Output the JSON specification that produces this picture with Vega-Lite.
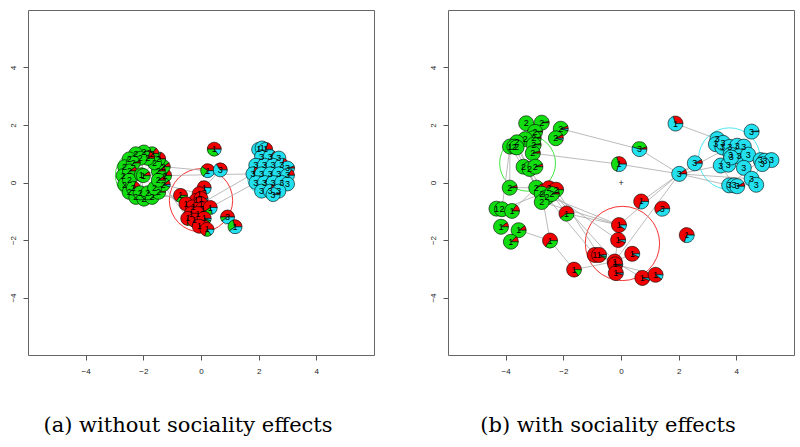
{
"$schema":"https://vega.github.io/schema/vega-lite/v6.json",
"padding":{"left":0,"top":9,"right":0,"bottom":0},
"background":"white",
"datasets":{
"nodes":[
{"p":"a","id":"a1","x":-1.26,"y":0.24,"lab":"2","s1":0.15,"s2":0.85,"s3":0},
{"p":"a","id":"a2","x":-1.31,"y":0.55,"lab":"2","s1":0.1,"s2":0.9,"s3":0},
{"p":"a","id":"a3","x":-1.47,"y":0.82,"lab":"2","s1":0.2,"s2":0.8,"s3":0},
{"p":"a","id":"a4","x":-1.70,"y":1.00,"lab":"2","s1":0.15,"s2":0.85,"s3":0},
{"p":"a","id":"a5","x":-1.98,"y":1.06,"lab":"2","s1":0.05,"s2":0.95,"s3":0},
{"p":"a","id":"a6","x":-2.26,"y":1.00,"lab":"2","s1":0,"s2":1,"s3":0},
{"p":"a","id":"a7","x":-2.49,"y":0.82,"lab":"2","s1":0.1,"s2":0.9,"s3":0},
{"p":"a","id":"a8","x":-2.65,"y":0.55,"lab":"2","s1":0,"s2":1,"s3":0},
{"p":"a","id":"a9","x":-2.70,"y":0.24,"lab":"2","s1":0.15,"s2":0.85,"s3":0},
{"p":"a","id":"a10","x":-2.65,"y":-0.07,"lab":"2","s1":0,"s2":1,"s3":0},
{"p":"a","id":"a11","x":-2.49,"y":-0.34,"lab":"2","s1":0.1,"s2":0.9,"s3":0},
{"p":"a","id":"a12","x":-2.26,"y":-0.52,"lab":"2","s1":0.15,"s2":0.85,"s3":0},
{"p":"a","id":"a13","x":-1.98,"y":-0.58,"lab":"2","s1":0.2,"s2":0.8,"s3":0},
{"p":"a","id":"a14","x":-1.70,"y":-0.52,"lab":"2","s1":0.15,"s2":0.85,"s3":0},
{"p":"a","id":"a15","x":-1.47,"y":-0.34,"lab":"2","s1":0.1,"s2":0.9,"s3":0},
{"p":"a","id":"a16","x":-1.31,"y":-0.07,"lab":"2","s1":0.1,"s2":0.85,"s3":0.05},
{"p":"a","id":"a17","x":-1.48,"y":0.40,"lab":"2","s1":0.1,"s2":0.9,"s3":0},
{"p":"a","id":"a18","x":-1.61,"y":0.68,"lab":"2","s1":0,"s2":1,"s3":0},
{"p":"a","id":"a19","x":-1.85,"y":0.84,"lab":"2","s1":0.2,"s2":0.8,"s3":0},
{"p":"a","id":"a20","x":-2.11,"y":0.84,"lab":"2","s1":0,"s2":1,"s3":0},
{"p":"a","id":"a21","x":-2.35,"y":0.68,"lab":"2","s1":0.05,"s2":0.95,"s3":0},
{"p":"a","id":"a22","x":-2.48,"y":0.40,"lab":"2","s1":0.1,"s2":0.9,"s3":0},
{"p":"a","id":"a23","x":-2.48,"y":0.08,"lab":"2","s1":0,"s2":1,"s3":0},
{"p":"a","id":"a24","x":-2.35,"y":-0.20,"lab":"2","s1":0.2,"s2":0.8,"s3":0},
{"p":"a","id":"a25","x":-2.11,"y":-0.36,"lab":"2","s1":0.05,"s2":0.95,"s3":0},
{"p":"a","id":"a26","x":-1.85,"y":-0.36,"lab":"2","s1":0.15,"s2":0.85,"s3":0},
{"p":"a","id":"a27","x":-1.61,"y":-0.20,"lab":"2","s1":0,"s2":1,"s3":0},
{"p":"a","id":"a28","x":-1.48,"y":0.08,"lab":"2","s1":0.1,"s2":0.9,"s3":0},
{"p":"a","id":"a29","x":-2.07,"y":0.27,"lab":"1","s1":0.15,"s2":0.85,"s3":0},
{"p":"a","id":"a30","x":-2.00,"y":0.24,"lab":"1","s1":0.1,"s2":0.9,"s3":0},
{"p":"a","id":"a31","x":-0.71,"y":-0.45,"lab":"1","s1":0.65,"s2":0.35,"s3":0},
{"p":"a","id":"a32","x":0.11,"y":-0.18,"lab":"1","s1":0.8,"s2":0,"s3":0.2},
{"p":"a","id":"a33","x":-0.06,"y":-0.39,"lab":"1","s1":0.95,"s2":0.05,"s3":0},
{"p":"a","id":"a34","x":-0.17,"y":-0.62,"lab":"1","s1":0.9,"s2":0,"s3":0.1},
{"p":"a","id":"a35","x":0.00,"y":-0.56,"lab":"1","s1":0.9,"s2":0.05,"s3":0.05},
{"p":"a","id":"a36","x":-0.52,"y":-0.74,"lab":"1","s1":0.9,"s2":0.1,"s3":0},
{"p":"a","id":"a37","x":-0.29,"y":-0.85,"lab":"1","s1":0.85,"s2":0,"s3":0.15},
{"p":"a","id":"a38","x":0.00,"y":-0.74,"lab":"1","s1":0.85,"s2":0,"s3":0.15},
{"p":"a","id":"a39","x":0.06,"y":-0.91,"lab":"1","s1":0.8,"s2":0,"s3":0.2},
{"p":"a","id":"a40","x":0.32,"y":-0.87,"lab":"1","s1":0.6,"s2":0.2,"s3":0.2},
{"p":"a","id":"a41","x":-0.34,"y":-1.08,"lab":"1","s1":0.9,"s2":0.1,"s3":0},
{"p":"a","id":"a42","x":-0.11,"y":-1.08,"lab":"1","s1":0.75,"s2":0,"s3":0.25},
{"p":"a","id":"a43","x":-0.46,"y":-1.25,"lab":"1","s1":0.75,"s2":0.25,"s3":0},
{"p":"a","id":"a44","x":-0.23,"y":-1.31,"lab":"1","s1":0.7,"s2":0.1,"s3":0.2},
{"p":"a","id":"a45","x":0.11,"y":-1.25,"lab":"1","s1":0.9,"s2":0.05,"s3":0.05},
{"p":"a","id":"a46","x":-0.06,"y":-1.52,"lab":"1","s1":0.95,"s2":0.05,"s3":0},
{"p":"a","id":"a47","x":0.21,"y":-1.63,"lab":"1","s1":0.7,"s2":0.15,"s3":0.15},
{"p":"a","id":"a48","x":0.46,"y":1.16,"lab":"1","s1":0.5,"s2":0.35,"s3":0.15},
{"p":"a","id":"a49","x":0.23,"y":0.41,"lab":"1","s1":0.4,"s2":0.25,"s3":0.35},
{"p":"a","id":"a50","x":0.67,"y":0.44,"lab":"3","s1":0.35,"s2":0,"s3":0.65},
{"p":"a","id":"a51","x":0.92,"y":-1.20,"lab":"3","s1":0.5,"s2":0.1,"s3":0.4},
{"p":"a","id":"a52","x":1.18,"y":-1.54,"lab":"1","s1":0.3,"s2":0.3,"s3":0.4},
{"p":"a","id":"a53","x":2.00,"y":1.15,"lab":"1","s1":0.1,"s2":0,"s3":0.9},
{"p":"a","id":"a54","x":2.12,"y":1.20,"lab":"1","s1":0.05,"s2":0,"s3":0.95},
{"p":"a","id":"a55","x":2.24,"y":1.15,"lab":"1","s1":0.2,"s2":0,"s3":0.8},
{"p":"a","id":"a56","x":2.10,"y":0.90,"lab":"3","s1":0,"s2":0,"s3":1},
{"p":"a","id":"a57","x":2.40,"y":0.90,"lab":"3","s1":0.15,"s2":0,"s3":0.85},
{"p":"a","id":"a58","x":2.70,"y":0.85,"lab":"3","s1":0,"s2":0,"s3":1},
{"p":"a","id":"a59","x":1.90,"y":0.60,"lab":"3","s1":0,"s2":0,"s3":1},
{"p":"a","id":"a60","x":2.20,"y":0.60,"lab":"3","s1":0.1,"s2":0,"s3":0.9},
{"p":"a","id":"a61","x":2.50,"y":0.60,"lab":"3","s1":0,"s2":0,"s3":1},
{"p":"a","id":"a62","x":2.80,"y":0.60,"lab":"3","s1":0.2,"s2":0,"s3":0.8},
{"p":"a","id":"a63","x":3.00,"y":0.50,"lab":"3","s1":0.05,"s2":0,"s3":0.95},
{"p":"a","id":"a64","x":1.80,"y":0.30,"lab":"3","s1":0.2,"s2":0,"s3":0.8},
{"p":"a","id":"a65","x":2.10,"y":0.30,"lab":"3","s1":0,"s2":0,"s3":1},
{"p":"a","id":"a66","x":2.40,"y":0.30,"lab":"3","s1":0.1,"s2":0,"s3":0.9},
{"p":"a","id":"a67","x":2.70,"y":0.30,"lab":"3","s1":0,"s2":0,"s3":1},
{"p":"a","id":"a68","x":3.00,"y":0.25,"lab":"3","s1":0.15,"s2":0,"s3":0.85},
{"p":"a","id":"a69","x":1.90,"y":0.00,"lab":"3","s1":0,"s2":0,"s3":1},
{"p":"a","id":"a70","x":2.20,"y":0.00,"lab":"3","s1":0.15,"s2":0,"s3":0.85},
{"p":"a","id":"a71","x":2.50,"y":0.00,"lab":"3","s1":0,"s2":0,"s3":1},
{"p":"a","id":"a72","x":2.80,"y":0.00,"lab":"3","s1":0.1,"s2":0,"s3":0.9},
{"p":"a","id":"a73","x":3.00,"y":-0.05,"lab":"3","s1":0,"s2":0,"s3":1},
{"p":"a","id":"a74","x":2.10,"y":-0.30,"lab":"3","s1":0,"s2":0,"s3":1},
{"p":"a","id":"a75","x":2.40,"y":-0.30,"lab":"3","s1":0.2,"s2":0,"s3":0.8},
{"p":"a","id":"a76","x":2.70,"y":-0.30,"lab":"3","s1":0,"s2":0,"s3":1},
{"p":"a","id":"a77","x":2.50,"y":-0.42,"lab":"3","s1":0.05,"s2":0,"s3":0.95},
{"p":"b","id":"b1","x":-3.29,"y":2.06,"lab":"2","s1":0,"s2":1,"s3":0},
{"p":"b","id":"b2","x":-2.75,"y":2.08,"lab":"2","s1":0.03,"s2":0.97,"s3":0},
{"p":"b","id":"b3","x":-2.09,"y":1.87,"lab":"2","s1":0.06,"s2":0.9,"s3":0.04},
{"p":"b","id":"b4","x":-2.26,"y":1.54,"lab":"2","s1":0.08,"s2":0.88,"s3":0.04},
{"p":"b","id":"b5","x":-2.98,"y":1.76,"lab":"2","s1":0.02,"s2":0.98,"s3":0},
{"p":"b","id":"b6","x":-3.03,"y":1.54,"lab":"2","s1":0.03,"s2":0.97,"s3":0},
{"p":"b","id":"b7","x":-3.32,"y":1.51,"lab":"2","s1":0,"s2":1,"s3":0},
{"p":"b","id":"b8","x":-3.61,"y":1.40,"lab":"2","s1":0,"s2":1,"s3":0},
{"p":"b","id":"b9","x":-3.85,"y":1.25,"lab":"1","s1":0.1,"s2":0.9,"s3":0},
{"p":"b","id":"b10","x":-3.70,"y":1.25,"lab":"2","s1":0,"s2":1,"s3":0},
{"p":"b","id":"b11","x":-3.62,"y":1.22,"lab":"2","s1":0,"s2":1,"s3":0},
{"p":"b","id":"b12","x":-3.03,"y":1.31,"lab":"2","s1":0.03,"s2":0.97,"s3":0},
{"p":"b","id":"b13","x":-3.06,"y":1.02,"lab":"2","s1":0.05,"s2":0.95,"s3":0},
{"p":"b","id":"b14","x":-3.38,"y":0.55,"lab":"2","s1":0,"s2":1,"s3":0},
{"p":"b","id":"b15","x":-3.17,"y":0.47,"lab":"2","s1":0,"s2":1,"s3":0},
{"p":"b","id":"b16","x":-2.97,"y":0.55,"lab":"2","s1":0.06,"s2":0.94,"s3":0},
{"p":"b","id":"b17","x":-3.86,"y":-0.18,"lab":"2","s1":0.05,"s2":0.95,"s3":0},
{"p":"b","id":"b18","x":-2.94,"y":-0.18,"lab":"2","s1":0.1,"s2":0.9,"s3":0},
{"p":"b","id":"b19","x":-2.50,"y":-0.20,"lab":"2","s1":0.6,"s2":0.4,"s3":0},
{"p":"b","id":"b20","x":-2.25,"y":-0.25,"lab":"2","s1":0.7,"s2":0.3,"s3":0},
{"p":"b","id":"b21","x":-2.75,"y":-0.39,"lab":"2","s1":0.03,"s2":0.97,"s3":0},
{"p":"b","id":"b22","x":-2.57,"y":-0.51,"lab":"2","s1":0,"s2":1,"s3":0},
{"p":"b","id":"b23","x":-2.75,"y":-0.68,"lab":"2","s1":0,"s2":1,"s3":0},
{"p":"b","id":"b24","x":-2.40,"y":-0.40,"lab":"2","s1":0.05,"s2":0.95,"s3":0},
{"p":"b","id":"b25","x":-4.32,"y":-0.91,"lab":"1","s1":0,"s2":1,"s3":0},
{"p":"b","id":"b26","x":-4.13,"y":-0.93,"lab":"2","s1":0,"s2":1,"s3":0},
{"p":"b","id":"b27","x":-3.78,"y":-0.99,"lab":"1","s1":0.15,"s2":0.85,"s3":0},
{"p":"b","id":"b28","x":-4.16,"y":-1.54,"lab":"1","s1":0.1,"s2":0.9,"s3":0},
{"p":"b","id":"b29","x":-3.55,"y":-1.66,"lab":"1","s1":0.1,"s2":0.9,"s3":0},
{"p":"b","id":"b30","x":-3.82,"y":-2.06,"lab":"1","s1":0.12,"s2":0.88,"s3":0},
{"p":"b","id":"b31","x":-2.46,"y":-2.02,"lab":"1","s1":0.65,"s2":0.35,"s3":0},
{"p":"b","id":"b32","x":-1.89,"y":-1.08,"lab":"1","s1":0.6,"s2":0.4,"s3":0},
{"p":"b","id":"b33","x":-1.63,"y":-3.03,"lab":"1","s1":0.85,"s2":0.15,"s3":0},
{"p":"b","id":"b34","x":-0.07,"y":-1.48,"lab":"1","s1":0.9,"s2":0,"s3":0.1},
{"p":"b","id":"b35","x":-0.10,"y":-2.00,"lab":"1","s1":0.95,"s2":0,"s3":0.05},
{"p":"b","id":"b36","x":0.39,"y":-2.48,"lab":"1","s1":0.93,"s2":0,"s3":0.07},
{"p":"b","id":"b37","x":-0.91,"y":-2.52,"lab":"1","s1":0.95,"s2":0,"s3":0.05},
{"p":"b","id":"b38","x":-0.76,"y":-2.52,"lab":"1","s1":0.92,"s2":0.04,"s3":0.04},
{"p":"b","id":"b39","x":-0.22,"y":-2.75,"lab":"1","s1":0.95,"s2":0.05,"s3":0},
{"p":"b","id":"b40","x":-0.20,"y":-2.85,"lab":"1","s1":0.97,"s2":0,"s3":0.03},
{"p":"b","id":"b41","x":-0.18,"y":-3.15,"lab":"1","s1":0.97,"s2":0,"s3":0.03},
{"p":"b","id":"b42","x":0.74,"y":-3.32,"lab":"1","s1":0.95,"s2":0,"s3":0.05},
{"p":"b","id":"b43","x":1.20,"y":-3.21,"lab":"1","s1":0.9,"s2":0,"s3":0.1},
{"p":"b","id":"b44","x":0.70,"y":-0.66,"lab":"1","s1":0.7,"s2":0,"s3":0.3},
{"p":"b","id":"b45","x":1.43,"y":-0.91,"lab":"3","s1":0.6,"s2":0,"s3":0.4},
{"p":"b","id":"b46","x":2.28,"y":-1.83,"lab":"1","s1":0.7,"s2":0,"s3":0.3},
{"p":"b","id":"b47","x":-0.07,"y":0.64,"lab":"1","s1":0.3,"s2":0.4,"s3":0.3},
{"p":"b","id":"b48","x":0.64,"y":1.16,"lab":"3","s1":0.05,"s2":0.4,"s3":0.55},
{"p":"b","id":"b49","x":1.89,"y":2.05,"lab":"1","s1":0.3,"s2":0,"s3":0.7},
{"p":"b","id":"b50","x":2.02,"y":0.30,"lab":"3","s1":0.1,"s2":0,"s3":0.9},
{"p":"b","id":"b51","x":2.56,"y":0.67,"lab":"3","s1":0.08,"s2":0,"s3":0.92},
{"p":"b","id":"b52","x":4.53,"y":1.77,"lab":"3","s1":0.02,"s2":0,"s3":0.98},
{"p":"b","id":"b53","x":3.34,"y":1.51,"lab":"3","s1":0,"s2":0,"s3":1},
{"p":"b","id":"b54","x":3.29,"y":1.33,"lab":"3","s1":0,"s2":0,"s3":1},
{"p":"b","id":"b55","x":3.52,"y":1.22,"lab":"3","s1":0.08,"s2":0,"s3":0.92},
{"p":"b","id":"b56","x":3.54,"y":1.38,"lab":"3","s1":0,"s2":0,"s3":1},
{"p":"b","id":"b57","x":3.77,"y":1.24,"lab":"3","s1":0,"s2":0,"s3":1},
{"p":"b","id":"b58","x":4.03,"y":1.28,"lab":"3","s1":0,"s2":0,"s3":1},
{"p":"b","id":"b59","x":4.26,"y":1.25,"lab":"3","s1":0,"s2":0,"s3":1},
{"p":"b","id":"b60","x":3.80,"y":0.97,"lab":"3","s1":0,"s2":0,"s3":1},
{"p":"b","id":"b61","x":4.09,"y":0.91,"lab":"3","s1":0,"s2":0,"s3":1},
{"p":"b","id":"b62","x":4.41,"y":0.97,"lab":"3","s1":0,"s2":0,"s3":1},
{"p":"b","id":"b63","x":3.46,"y":0.59,"lab":"3","s1":0.1,"s2":0,"s3":0.9},
{"p":"b","id":"b64","x":3.72,"y":0.62,"lab":"3","s1":0,"s2":0,"s3":1},
{"p":"b","id":"b65","x":4.26,"y":0.51,"lab":"3","s1":0,"s2":0,"s3":1},
{"p":"b","id":"b66","x":4.84,"y":0.78,"lab":"3","s1":0,"s2":0,"s3":1},
{"p":"b","id":"b67","x":4.99,"y":0.76,"lab":"3","s1":0,"s2":0,"s3":1},
{"p":"b","id":"b68","x":5.22,"y":0.78,"lab":"3","s1":0,"s2":0,"s3":1},
{"p":"b","id":"b69","x":4.90,"y":0.64,"lab":"3","s1":0,"s2":0,"s3":1},
{"p":"b","id":"b70","x":4.53,"y":0.13,"lab":"3","s1":0,"s2":0,"s3":1},
{"p":"b","id":"b71","x":4.69,"y":-0.08,"lab":"3","s1":0,"s2":0,"s3":1},
{"p":"b","id":"b72","x":3.75,"y":-0.10,"lab":"3","s1":0,"s2":0,"s3":1},
{"p":"b","id":"b73","x":3.92,"y":-0.10,"lab":"3","s1":0,"s2":0,"s3":1},
{"p":"b","id":"b74","x":4.03,"y":-0.13,"lab":"3","s1":0.08,"s2":0,"s3":0.92},
{"p":"b","id":"b75","x":3.82,"y":0.87,"lab":"3","s1":0,"s2":0,"s3":1}
],
"edges":[
{"p":"a","s":"a29","t":"a1"},{"p":"a","s":"a29","t":"a3"},{"p":"a","s":"a29","t":"a5"},{"p":"a","s":"a29","t":"a7"},
{"p":"a","s":"a29","t":"a9"},{"p":"a","s":"a29","t":"a11"},{"p":"a","s":"a29","t":"a13"},{"p":"a","s":"a29","t":"a15"},
{"p":"a","s":"a30","t":"a2"},{"p":"a","s":"a30","t":"a12"},{"p":"a","s":"a30","t":"a8"},{"p":"a","s":"a1","t":"a64"},
{"p":"a","s":"a2","t":"a49"},{"p":"a","s":"a15","t":"a36"},{"p":"a","s":"a14","t":"a31"},{"p":"a","s":"a16","t":"a43"},
{"p":"a","s":"a40","t":"a69"},{"p":"a","s":"a38","t":"a64"},{"p":"a","s":"a16","t":"a33"},{"p":"a","s":"a32","t":"a50"},
{"p":"b","s":"b3","t":"b48"},{"p":"b","s":"b13","t":"b47"},{"p":"b","s":"b47","t":"b50"},{"p":"b","s":"b48","t":"b50"},
{"p":"b","s":"b49","t":"b53"},{"p":"b","s":"b50","t":"b51"},{"p":"b","s":"b50","t":"b63"},{"p":"b","s":"b50","t":"b72"},
{"p":"b","s":"b50","t":"b57"},{"p":"b","s":"b50","t":"b70"},{"p":"b","s":"b50","t":"b34"},{"p":"b","s":"b50","t":"b39"},
{"p":"b","s":"b44","t":"b50"},{"p":"b","s":"b21","t":"b34"},{"p":"b","s":"b19","t":"b39"},{"p":"b","s":"b22","t":"b37"},
{"p":"b","s":"b24","t":"b35"},{"p":"b","s":"b29","t":"b31"},{"p":"b","s":"b31","t":"b33"},{"p":"b","s":"b33","t":"b39"},
{"p":"b","s":"b39","t":"b42"},{"p":"b","s":"b39","t":"b36"},{"p":"b","s":"b35","t":"b39"},{"p":"b","s":"b34","t":"b35"},
{"p":"b","s":"b9","t":"b17"},{"p":"b","s":"b9","t":"b26"},{"p":"b","s":"b8","t":"b18"},{"p":"b","s":"b17","t":"b18"},
{"p":"b","s":"b18","t":"b27"},{"p":"b","s":"b21","t":"b31"},{"p":"b","s":"b9","t":"b21"},{"p":"b","s":"b24","t":"b32"},
{"p":"b","s":"b32","t":"b34"},{"p":"b","s":"b37","t":"b39"},{"p":"b","s":"b40","t":"b43"},{"p":"b","s":"b55","t":"b69"},
{"p":"b","s":"b72","t":"b66"},{"p":"b","s":"b53","t":"b55"},{"p":"b","s":"b57","t":"b65"},{"p":"b","s":"b63","t":"b73"},
{"p":"b","s":"b60","t":"b71"},{"p":"b","s":"b13","t":"b16"},{"p":"b","s":"b12","t":"b15"},{"p":"b","s":"b10","t":"b18"},
{"p":"b","s":"b11","t":"b22"},{"p":"b","s":"b26","t":"b21"},{"p":"b","s":"b20","t":"b38"},{"p":"b","s":"b23","t":"b34"}
],
"clusters":[
{"p":"a","x":-2.07,"y":0.25,"rad":0.9,"cl":"s2"},
{"p":"a","x":0.0,"y":-0.62,"rad":1.1,"cl":"s1"},
{"p":"a","x":2.35,"y":0.24,"rad":0.75,"cl":"s3"},
{"p":"b","x":-3.24,"y":0.67,"rad":0.97,"cl":"s2"},
{"p":"b","x":0.05,"y":-2.12,"rad":1.29,"cl":"s1"},
{"p":"b","x":3.76,"y":0.83,"rad":1.07,"cl":"s3"}
],
"origin":[{"x":0,"y":0}]
},
"hconcat":[
{
"width":346,"height":345,
"title":{"text":"(a) without sociality effects","dx":-13},
"encoding":{
"x":{"field":"x","type":"quantitative","scale":{"domain":[-6,6],"nice":false,"zero":false},"axis":{"values":[-4,-2,0,2,4],"title":null}},
"y":{"field":"y","type":"quantitative","scale":{"domain":[-6,6],"nice":false,"zero":false},"axis":{"values":[-4,-2,0,2,4],"title":null}}
},
"layer":[
{"data":{"name":"clusters"},"transform":[{"filter":"datum.p==='a'"}],
 "mark":{"type":"point","shape":"circle","filled":false,"strokeWidth":0.8,"opacity":1},
 "encoding":{"size":{"field":"rad","type":"quantitative","scale":{"type":"pow","exponent":2,"domain":[0,1],"range":[0,3318]},"legend":null},
  "stroke":{"field":"cl","type":"nominal","scale":{"domain":["s1","s2","s3"],"range":["#f00000","#11dd11","#22e0ee"]},"legend":null}}},
{"data":{"name":"edges"},"transform":[{"filter":"datum.p==='a'"},
  {"lookup":"s","from":{"data":{"name":"nodes"},"key":"id","fields":["x","y"]}},
  {"lookup":"t","from":{"data":{"name":"nodes"},"key":"id","fields":["x","y"]},"as":["xe","ye"]}],
 "mark":{"type":"rule","color":"#aaaaaa","strokeWidth":0.8},
 "encoding":{"x2":{"field":"xe"},"y2":{"field":"ye"}}},
{"data":{"name":"origin"},"mark":{"type":"text","text":"+","fontSize":9,"color":"#222222","font":"Liberation Sans"},"encoding":{}},
{"data":{"name":"nodes"},"transform":[{"filter":"datum.p==='a'"},{"fold":["s1","s2","s3"]},{"filter":"datum.value>0"},
  {"stack":"value","groupby":["id"],"sort":[{"field":"key"}],"as":["start","end"]}],
 "mark":{"type":"arc","outerRadius":7,"stroke":"black","strokeWidth":0.6},
 "encoding":{"theta":{"field":"start","type":"quantitative","stack":null,"scale":{"type":"linear","domain":[0,1],"range":[1.5708,-4.7124]}},
  "theta2":{"field":"end"},
  "fill":{"field":"key","type":"nominal","scale":{"domain":["s1","s2","s3"],"range":["#f00000","#11dd11","#22e0ee"]},"legend":null}}},
{"data":{"name":"nodes"},"transform":[{"filter":"datum.p==='a'"}],
 "mark":{"type":"text","fontSize":9,"font":"Liberation Sans","color":"black"},
 "encoding":{"text":{"field":"lab"}}}
]
},
{
"width":346,"height":345,
"title":{"text":"(b) with sociality effects","dx":-13},
"encoding":{
"x":{"field":"x","type":"quantitative","scale":{"domain":[-6,6],"nice":false,"zero":false},"axis":{"values":[-4,-2,0,2,4],"title":null}},
"y":{"field":"y","type":"quantitative","scale":{"domain":[-6,6],"nice":false,"zero":false},"axis":{"values":[-4,-2,0,2,4],"title":null}}
},
"layer":[
{"data":{"name":"clusters"},"transform":[{"filter":"datum.p==='b'"}],
 "mark":{"type":"point","shape":"circle","filled":false,"strokeWidth":0.8,"opacity":1},
 "encoding":{"size":{"field":"rad","type":"quantitative","scale":{"type":"pow","exponent":2,"domain":[0,1],"range":[0,3318]},"legend":null},
  "stroke":{"field":"cl","type":"nominal","scale":{"domain":["s1","s2","s3"],"range":["#f00000","#11dd11","#22e0ee"]},"legend":null}}},
{"data":{"name":"edges"},"transform":[{"filter":"datum.p==='b'"},
  {"lookup":"s","from":{"data":{"name":"nodes"},"key":"id","fields":["x","y"]}},
  {"lookup":"t","from":{"data":{"name":"nodes"},"key":"id","fields":["x","y"]},"as":["xe","ye"]}],
 "mark":{"type":"rule","color":"#aaaaaa","strokeWidth":0.8},
 "encoding":{"x2":{"field":"xe"},"y2":{"field":"ye"}}},
{"data":{"name":"origin"},"mark":{"type":"text","text":"+","fontSize":9,"color":"#222222","font":"Liberation Sans"},"encoding":{}},
{"data":{"name":"nodes"},"transform":[{"filter":"datum.p==='b'"},{"fold":["s1","s2","s3"]},{"filter":"datum.value>0"},
  {"stack":"value","groupby":["id"],"sort":[{"field":"key"}],"as":["start","end"]}],
 "mark":{"type":"arc","outerRadius":7.5,"stroke":"black","strokeWidth":0.6},
 "encoding":{"theta":{"field":"start","type":"quantitative","stack":null,"scale":{"type":"linear","domain":[0,1],"range":[1.5708,-4.7124]}},
  "theta2":{"field":"end"},
  "fill":{"field":"key","type":"nominal","scale":{"domain":["s1","s2","s3"],"range":["#f00000","#11dd11","#22e0ee"]},"legend":null}}},
{"data":{"name":"nodes"},"transform":[{"filter":"datum.p==='b'"}],
 "mark":{"type":"text","fontSize":9,"font":"Liberation Sans","color":"black"},
 "encoding":{"text":{"field":"lab"}}}
]
}
],
"spacing":45,
"config":{
"view":{"stroke":"#666666","strokeWidth":1},
"axis":{"grid":false,"domain":false,"tickColor":"#555555","tickSize":5,"labelFont":"Liberation Sans","labelFontSize":8,"labelColor":"#222222"},
"axisX":{"labelPadding":7},
"axisY":{"labelAngle":-90,"labelAlign":"center","labelBaseline":"alphabetic","labelPadding":8,"minExtent":27,"maxExtent":27},
"title":{"orient":"bottom","anchor":"middle","font":"DejaVu Serif","fontSize":21,"fontWeight":"normal","color":"black","offset":40}
}
}
